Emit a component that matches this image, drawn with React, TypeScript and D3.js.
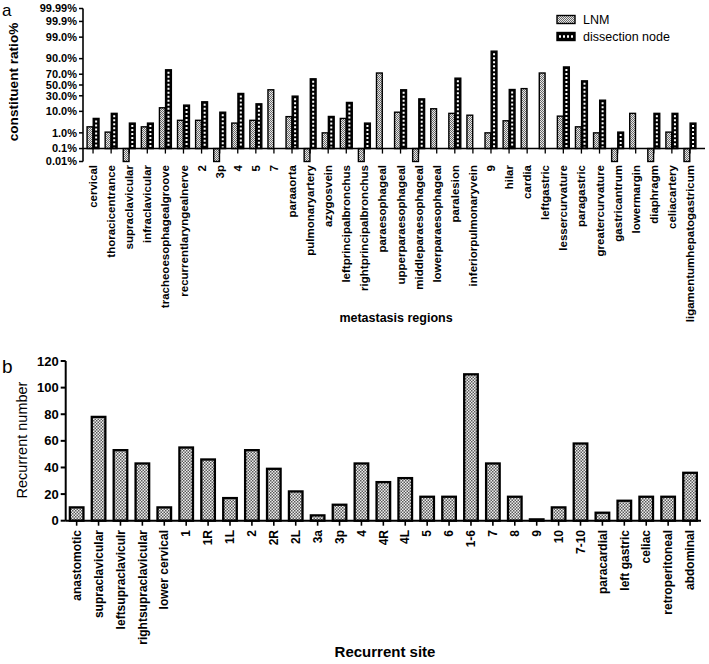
import React from 'react';
import * as d3 from 'd3';

// panel a: constituent ratio (%) by metastasis region
const regions = [
  'cervical', 'thoracicentrance', 'supraclavicular', 'infraclavicular',
  'tracheoesophagealgroove', 'recurrentlaryngealnerve', '2', '3p', '4', '5', '7',
  'paraaorta', 'pulmonaryartery', 'azygosvein', 'leftprincipalbronchus',
  'rightprincipalbronchus', 'paraesophageal', 'upperparaesophageal',
  'middleparaesophageal', 'lowerparaesophageal', 'paralesion',
  'inferiorpulmonaryvein', '9', 'hilar', 'cardia', 'leftgastric',
  'lessercurvature', 'paragastric', 'greatercurvature', 'gastricantrum',
  'lowermargin', 'diaphragm', 'celiacartery', 'ligamentumhepatogastricum',
];
const lnmValues = [
  2.1, 1.1, 0, 2.1, 13.4, 4.3, 4.3, 0, 3.2, 4.3, 40.8,
  6.2, 0, 1.0, 5.2, 0, 72, 9.3, 0, 12.4, 8.4, 7.1, 1.0, 4.1,
  43, 72, 6.5, 2.1, 1.0, 0, 8.4, 0, 1.1, 0,
];
const dissectionValues: (number | null)[] = [
  5.2, 8.4, 3.2, 3.2, 77, 16.4, 20.7, 9.3, 34, 18, null,
  29.4, 61.8, 6.3, 19.8, 3.2, null, 40.8, 25, null, 63, null, 95, 41.3,
  null, null, 81, 58, 23, 1.1, null, 8.4, 8.4, 3.2,
];
const ratioTicks = [0.01, 0.1, 1, 10, 30, 50, 70, 90, 99, 99.9, 99.99];
const ratioTickLabels = [
  '0.01%', '0.1%', '1.0%', '10.0%', '30.0%', '50.0%', '70.0%', '90.0%',
  '99.0%', '99.9%', '99.99%',
];

// panel b: recurrent number by site
const sites = [
  'anastomotic', 'supraclavicular', 'leftsupraclaviculr', 'rightsupraclavicular',
  'lower cervical', '1', '1R', '1L', '2', '2R', '2L', '3a', '3p', '4', '4R', '4L',
  '5', '6', '1-6', '7', '8', '9', '10', '7-10', 'paracardial', 'left gastric',
  'celiac', 'retroperitoneal', 'abdominal',
];
const recurrentValues = [
  10, 78, 53, 43, 10, 55, 46, 17, 53, 39, 22, 4, 12, 43, 29, 32,
  18, 18, 110, 43, 18, 1, 10, 58, 6, 15, 18, 18, 36,
];
const countTicks = [0, 20, 40, 60, 80, 100, 120];

const FONT = '"Liberation Sans", Arial, sans-serif';

// inverse standard normal CDF (Acklam's approximation)
function probit(p: number): number {
  const a = [-39.6968302866538, 220.946098424521, -275.928510446969, 138.357751867269, -30.6647980661472, 2.50662827745924];
  const b = [-54.4760987982241, 161.585836858041, -155.698979859887, 66.8013118877197, -13.2806815528857];
  const c = [-0.00778489400243029, -0.322396458041136, -2.40075827716184, -2.54973253934373, 4.37466414146497, 2.93816398269878];
  const d = [0.00778469570904146, 0.32246712907004, 2.445134137143, 3.75440866190742];
  const pl = 0.02425;
  if (p < pl) {
    const q = Math.sqrt(-2 * Math.log(p));
    return (((((c[0] * q + c[1]) * q + c[2]) * q + c[3]) * q + c[4]) * q + c[5]) /
      ((((d[0] * q + d[1]) * q + d[2]) * q + d[3]) * q + 1);
  }
  if (p > 1 - pl) {
    const q = Math.sqrt(-2 * Math.log(1 - p));
    return -(((((c[0] * q + c[1]) * q + c[2]) * q + c[3]) * q + c[4]) * q + c[5]) /
      ((((d[0] * q + d[1]) * q + d[2]) * q + d[3]) * q + 1);
  }
  const q = p - 0.5;
  const r = q * q;
  return (((((a[0] * r + a[1]) * r + a[2]) * r + a[3]) * r + a[4]) * r + a[5]) * q /
    (((((b[0] * r + b[1]) * r + b[2]) * r + b[3]) * r + b[4]) * r + 1);
}

const App: React.FC = () => {
  // ---- panel a scales
  const yA = d3.scaleLinear()
    .domain([probit(0.0001), probit(0.9999)])
    .range([161.5, 8.5]);
  const pct = (v: number) => yA(probit(Math.min(Math.max(v / 100, 0.0001), 0.9999)));
  const baseA = pct(0.1);
  const xA = d3.scaleBand<string>()
    .domain(regions)
    .range([84, 699])
    .paddingInner(0.34)
    .paddingOuter(0.17);
  const sub = d3.scaleBand<string>()
    .domain(['LNM', 'dissection'])
    .range([0, xA.bandwidth()])
    .paddingInner(0.06);
  const axisAX = 83;

  // ---- panel b scales
  const yB = d3.scaleLinear().domain([0, 120]).range([520.7, 361]);
  const xB = d3.scaleBand<string>()
    .domain(sites)
    .range([65.7, 701])
    .paddingInner(0.38)
    .paddingOuter(0.19);
  const axisBX = 65.7;

  return (
    <svg width={709} height={664} style={{ display: 'block', position: 'absolute', left: 0, top: 0 }} fontFamily={FONT}>
      <defs>
        <pattern id="dotfill" width={3} height={3} patternUnits="userSpaceOnUse">
          <rect width={3} height={3} fill="#eeeeee" />
          <rect width={1.5} height={1.5} fill="#5a5a5a" />
          <rect x={1.5} y={1.5} width={1.5} height={1.5} fill="#5a5a5a" />
        </pattern>
        <pattern id="lnmfill" width={2} height={2} patternUnits="userSpaceOnUse">
          <rect width={2} height={2} fill="#e8e8e8" />
          <rect width={1} height={1} fill="#6a6a6a" />
          <rect x={1} y={1} width={1} height={1} fill="#6a6a6a" />
        </pattern>
      </defs>
      <rect width={709} height={664} fill="#fff" />

      {/* ===== panel a ===== */}
      <text x={2} y={16} fontSize={17}>a</text>
      <text transform="translate(18,82) rotate(-90)" textAnchor="middle" fontSize={13.6} fontWeight="bold">constituent ratio%</text>

      {/* bars */}
      {regions.map((r, i) => {
        const x0 = xA(r)!;
        const w = sub.bandwidth();
        const lv = lnmValues[i];
        const dv = dissectionValues[i];
        const ly = pct(lv);
        const items: JSX.Element[] = [];
        const lx = x0 + sub('LNM')!;
        const ltop = Math.min(ly, baseA);
        const lh = Math.abs(ly - baseA);
        items.push(
          <rect key="l" x={lx} y={ltop} width={w} height={lh} fill="url(#lnmfill)" stroke="#000" strokeWidth={1.4} />
        );
        if (dv !== null) {
          const dy = pct(dv);
          const dx = x0 + sub('dissection')!;
          const dtop = Math.min(dy, baseA);
          const dh = Math.abs(dy - baseA);
          items.push(
            <g key="d">
              <rect x={dx} y={dtop} width={w} height={dh} fill="#000" stroke="#000" strokeWidth={1.4} />
              <line x1={dx + w / 2} x2={dx + w / 2} y1={dtop + 2} y2={dtop + dh - 1}
                stroke="#fff" strokeWidth={2} strokeDasharray="2 2" />
            </g>
          );
        }
        return <g key={r}>{items}</g>;
      })}

      {/* y axis a */}
      <line x1={axisAX} x2={axisAX} y1={yA.range()[1]} y2={yA.range()[0]} stroke="#000" strokeWidth={1.6} />
      {ratioTicks.map((t, i) => (
        <g key={t}>
          <line x1={axisAX - 4} x2={axisAX} y1={pct(t)} y2={pct(t)} stroke="#000" strokeWidth={1.5} />
          <text x={axisAX - 6} y={pct(t)} dy="0.35em" textAnchor="end" fontSize={11} fontWeight="bold">
            {ratioTickLabels[i]}
          </text>
        </g>
      ))}

      {/* x axis a */}
      <line x1={axisAX} x2={705} y1={baseA} y2={baseA} stroke="#000" strokeWidth={1.6} />
      {regions.map((r) => {
        const cx = xA(r)! + xA.bandwidth() / 2;
        return (
          <g key={r}>
            <line x1={cx} x2={cx} y1={baseA} y2={baseA + 5} stroke="#000" strokeWidth={1.3} />
            <text transform={`translate(${cx},165) rotate(-90)`} dy="0.35em" textAnchor="end"
              fontSize={11.5} fontWeight="bold">{r}</text>
          </g>
        );
      })}
      <text x={396} y={322} textAnchor="middle" fontSize={12.5} fontWeight="bold">metastasis regions</text>

      {/* legend */}
      <g>
        <rect x={557} y={15.5} width={18} height={8} fill="url(#lnmfill)" stroke="#000" strokeWidth={1.4} />
        <text x={583} y={20} dy="0.35em" fontSize={12.5}>LNM</text>
        <rect x={557} y={32.5} width={18} height={8} fill="#000" stroke="#000" strokeWidth={1.4} />
        <line x1={559} x2={575} y1={36.5} y2={36.5} stroke="#fff" strokeWidth={2.4} strokeDasharray="2 2" />
        <text x={583} y={36.7} dy="0.35em" fontSize={12.5}>dissection node</text>
      </g>

      {/* ===== panel b ===== */}
      <text x={2} y={373} fontSize={19}>b</text>
      <text transform="translate(27,440) rotate(-90)" textAnchor="middle" fontSize={14.5}>Recurrent number</text>

      {sites.map((s, i) => (
        <rect key={s} x={xB(s)!} y={yB(recurrentValues[i])} width={xB.bandwidth()}
          height={yB(0) - yB(recurrentValues[i])} fill="url(#dotfill)" stroke="#000" strokeWidth={2.3} />
      ))}

      <line x1={axisBX} x2={axisBX} y1={yB(120)} y2={yB(0)} stroke="#000" strokeWidth={2} />
      {countTicks.map((t) => (
        <g key={t}>
          <line x1={axisBX - 5} x2={axisBX} y1={yB(t)} y2={yB(t)} stroke="#000" strokeWidth={2} />
          <text x={axisBX - 7} y={yB(t)} dy="0.35em" textAnchor="end" fontSize={13} fontWeight="bold">{t}</text>
        </g>
      ))}
      <line x1={axisBX} x2={701} y1={yB(0)} y2={yB(0)} stroke="#000" strokeWidth={2} />
      {sites.map((s) => {
        const cx = xB(s)! + xB.bandwidth() / 2;
        return (
          <g key={s}>
            <line x1={cx} x2={cx} y1={yB(0)} y2={yB(0) + 5} stroke="#000" strokeWidth={1.6} />
            <text transform={`translate(${cx},530) rotate(-90)`} dy="0.35em" textAnchor="end"
              fontSize={12} fontWeight="bold">{s}</text>
          </g>
        );
      })}
      <text x={385} y={657} textAnchor="middle" fontSize={15} fontWeight="bold">Recurrent site</text>
    </svg>
  );
};

export default App;
